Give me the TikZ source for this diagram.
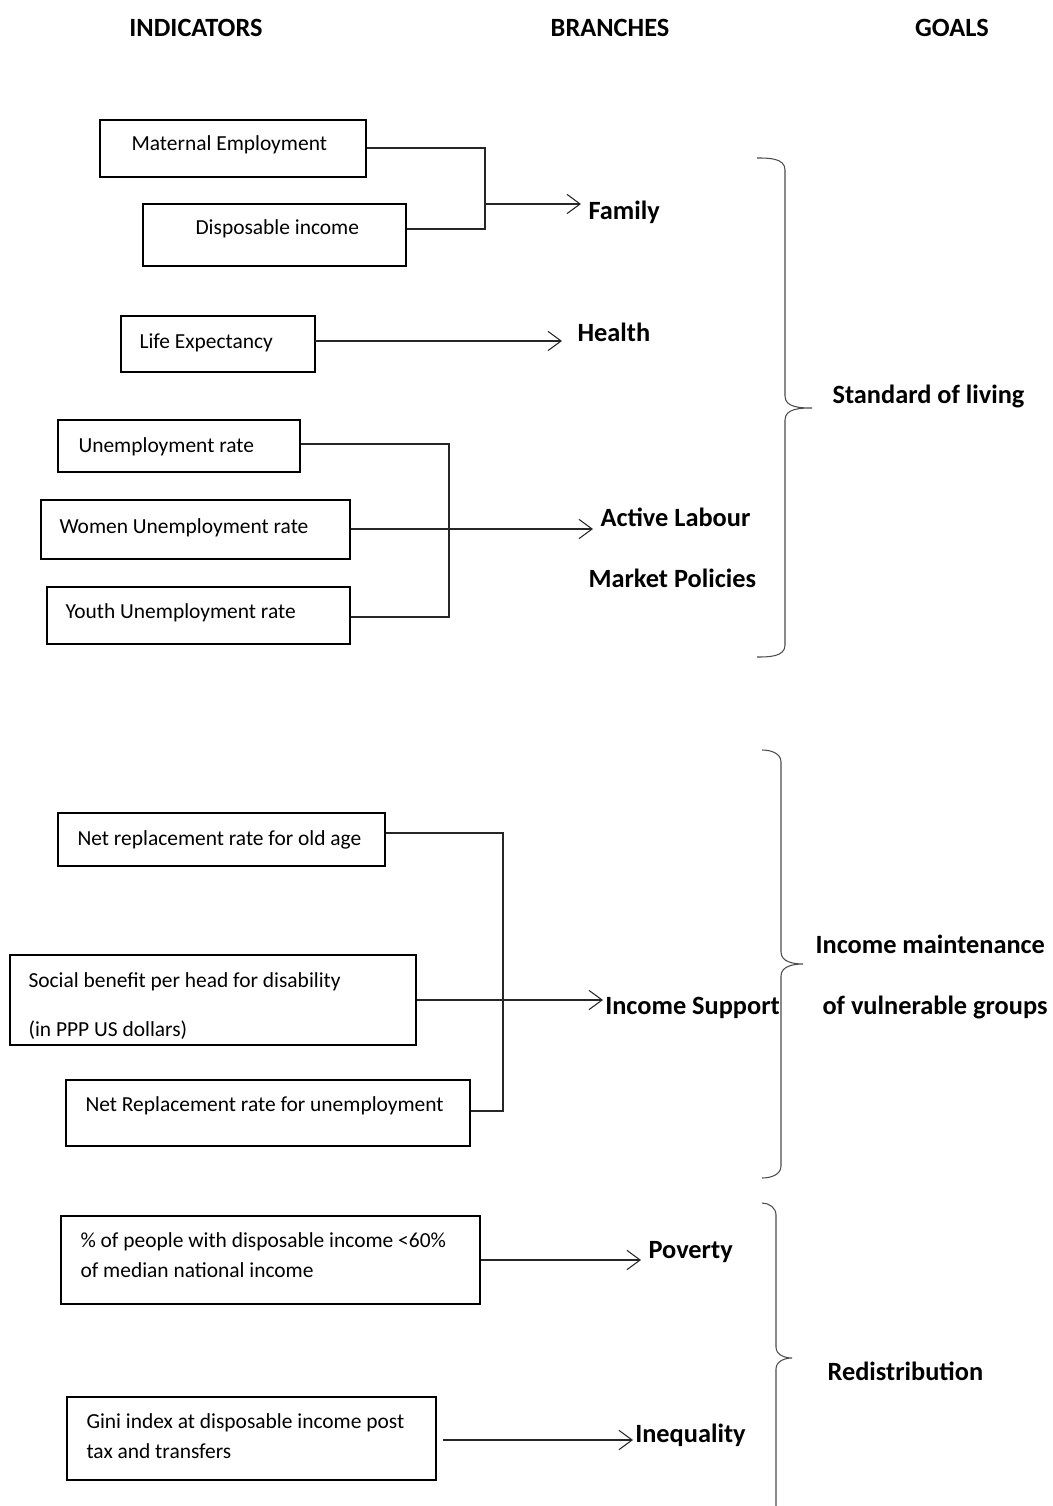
\documentclass[tikz,border=0pt]{standalone}
\usepackage{fontspec}
\setmainfont{Carlito}
\usetikzlibrary{positioning,fit,arrows.meta}
\tikzset{
	welfare map/.style={
		x=0.02cm,
		y=-0.02cm, % pixel grid, y going down
		line width=0.6pt,
		indicator/.style={
			rectangle,
			draw,
			inner sep=0pt
		},
		indicator text/.style={
			anchor=base west,
			inner sep=0pt,
			font=\fontsize{12.2}{14}\selectfont
		},
		branch/.style={
			anchor=base west,
			inner xsep=4pt,
			inner ysep=0pt,
			font=\bfseries\fontsize{15}{18}\selectfont
		},
		tight branch/.style={
			branch,
			inner xsep=1pt % arrow tip touches the text
		},
		goal/.style={
			branch
		},
		heading/.style={
			anchor=base,
			inner sep=0pt,
			font=\bfseries\fontsize{15}{18}\selectfont
		},
		link/.style={
			draw,
			black!85
		},
		link arrow/.style={
			link,
			-{Straight Barb[length=7.5pt,width=11pt]}
		},
		goal brace/.style={
			draw,
			black!70
		}
	}
}

\begin{document}
\begin{tikzpicture}[welfare map]
		\useasboundingbox (0,0) rectangle (1052,1506);
		% column headings
		\node[heading] (hInd) at (196,37) {INDICATORS};
		\node[heading] (hBra) at (610,37) {BRANCHES};
		\node[heading] (hGoa) at (952,37) {GOALS};
		% indicator boxes
		\node[indicator, fit={(100,120) (366,177)}] (mat) {};
		\node[indicator, fit={(143,204) (406,266)}] (dis) {};
		\node[indicator, fit={(121,316) (315,372)}] (life) {};
		\node[indicator, fit={(58,420) (300,472)}] (unemp) {};
		\node[indicator, fit={(41,500) (350,559)}] (women) {};
		\node[indicator, fit={(47,587) (350,644)}] (youth) {};
		\node[indicator, fit={(58,813) (385,866)}] (old) {};
		\node[indicator, fit={(10,955) (416,1045)}] (soc) {};
		\node[indicator, fit={(66,1080) (470,1146)}] (netu) {};
		\node[indicator, fit={(61,1216) (480,1304)}] (pov) {};
		\node[indicator, fit={(67,1397) (436,1480)}] (gini) {};
		\node[indicator text] (matT) at (131,151) {Maternal Employment};
		\node[indicator text] (disT) at (195,235) {Disposable income};
		\node[indicator text] (lifeT) at (139,349) {Life Expectancy};
		\node[indicator text] (unempT) at (78,453) {Unemployment rate};
		\node[indicator text] (womenT) at (59,533) {Women Unemployment rate};
		\node[indicator text] (youthT) at (65,618) {Youth Unemployment rate};
		\node[indicator text] (oldT) at (77,845) {Net replacement rate for old age};
		\node[indicator text] (socT) at (28,987) {Social benefit per head for disability};
		\node[indicator text] (socU) at (28,1036) {(in PPP US dollars)};
		\node[indicator text] (netuT) at (85,1111) {Net Replacement rate for unemployment};
		\node[indicator text] (povT) at (80,1247) {\% of people with disposable income <60\%};
		\node[indicator text] (povU) at (80,1277) {of median national income};
		\node[indicator text] (giniT) at (86,1428) {Gini index at disposable income post};
		\node[indicator text] (giniU) at (86,1458) {tax and transfers};
		% branches
		\node[branch] (fam) at (581,220) {Family};
		\node[branch] (health) at (570,342) {Health};
		\node[branch] (alm) at (593,526) {Active Labour};
		\node[branch] (almB) at (581,587) {Market Policies};
		\node[tight branch] (inc) at (603,1014) {Income Support};
		\node[branch] (povL) at (641,1258) {Poverty};
		\node[tight branch] (ineq) at (633,1442) {Inequality};
		% goals
		\node[goal] (sol) at (825,404) {Standard of living};
		\node[goal] (imv) at (808,953) {Income maintenance};
		\node[goal] (imvB) at (815,1014) {of vulnerable groups};
		\node[goal] (red) at (820,1380) {Redistribution};
		% junctions
		\coordinate (famTop) at (485,148);
		\coordinate (famBot) at (485,229);
		\coordinate (famJ) at (485,204);
		\coordinate (lifeS) at (315,341);
		\coordinate (lifeE) at (562,341);
		\coordinate (almTop) at (449,444);
		\coordinate (almBot) at (449,617);
		\coordinate (almJ) at (449,529);
		\coordinate (incTop) at (503,833);
		\coordinate (incBot) at (503,1111);
		\coordinate (incJ) at (503,1000);
		\coordinate (giniS) at (443,1440);
		% connectors
		\draw[link] (mat.east |- famTop) -- (famTop) -- (famBot) -- (dis.east |- famBot);
		\draw[link arrow] (famJ) -- (famJ -| fam.west);
		\draw[link arrow] (lifeS) -- (lifeE);
		\draw[link] (unemp.east |- almTop) -- (almTop) -- (almBot) -- (youth.east |- almBot);
		\draw[link arrow] (women.east |- almJ) -- (almJ -| alm.west);
		\draw[link] (old.east |- incTop) -- (incTop) -- (incBot) -- (netu.east |- incBot);
		\draw[link arrow] (soc.east |- incJ) -- (incJ -| inc.west);
		\draw[link arrow] (pov.east) -- (pov.east -| povL.west);
		\draw[link arrow] (giniS) -- (giniS -| ineq.west);
		% braces
		\draw[goal brace] (757,158) to[out=0,in=90] (785,170) -- (785,396)
			to[out=-90,in=180] (812,408) to[out=180,in=90] (785,420) -- (785,645)
			to[out=-90,in=0] (757,657);
		\draw[goal brace] (762,750) to[out=0,in=90] (781,762) -- (781,952)
			to[out=-90,in=180] (803,964) to[out=180,in=90] (781,976) -- (781,1166)
			to[out=-90,in=0] (762,1178);
		\draw[goal brace] (762,1203) to[out=0,in=90] (776,1215) -- (776,1347)
			to[out=-90,in=180] (792,1358) to[out=180,in=90] (776,1369) -- (776,1506);
	\end{tikzpicture}
\end{document}
